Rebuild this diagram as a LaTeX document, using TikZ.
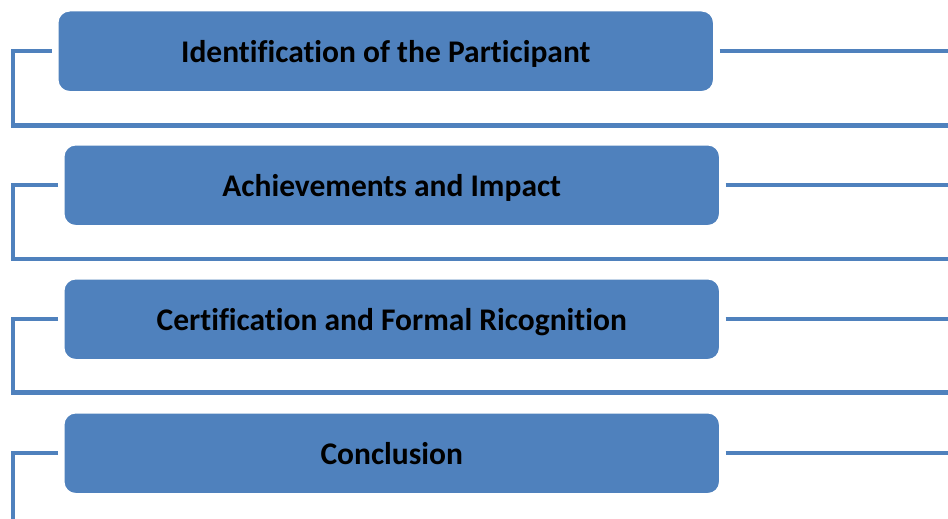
\documentclass[tikz,border=0pt]{standalone}
\usepackage{fontspec}
\setmainfont[Ligatures=NoCommon]{Carlito}
\definecolor{boxblue}{HTML}{4F81BD}
\tikzset{
  stagebox/.style={draw=white, line width=1.5pt, fill=boxblue, rounded corners=12pt,
    minimum height=81pt, inner sep=0pt, anchor=north west,
    font=\fontsize{31.5}{36}\selectfont\bfseries, text=black,
    text depth=0pt},
  link/.style={draw=boxblue, line width=4.2pt, line join=miter, line cap=butt},
}
\begin{document}
\begin{tikzpicture}[x=1pt, y=-1pt]
  \useasboundingbox (0,0) rectangle (948,519);
  % stage boxes
  \node[stagebox, minimum width=656pt] (b1) at (57,10) {Identification of the Participant};
  \node[stagebox, minimum width=656pt] (b2) at (63,144) {Achievements and Impact};
  \node[stagebox, minimum width=656pt] (b3) at (63,278) {Certification and Formal Ricognition};
  \node[stagebox, minimum width=656pt] (b4) at (63,412) {Conclusion};
  % corner and end points of the brackets
  \coordinate (L1) at (13,125.5);
  \coordinate (L2) at (13,259);
  \coordinate (L3) at (13,392.5);
  \coordinate (L4) at (13,519);
  \coordinate (F1) at (948,125.5);
  \coordinate (F2) at (948,259);
  \coordinate (F3) at (948,392.5);
  % left brackets running under each box
  \draw[link] ([xshift=-5pt]b1.west) -| (L1) -- (F1);
  \draw[link] ([xshift=-5pt]b2.west) -| (L2) -- (F2);
  \draw[link] ([xshift=-5pt]b3.west) -| (L3) -- (F3);
  \draw[link] ([xshift=-5pt]b4.west) -| (L4);
  % lines leaving each box to the right
  \coordinate (E1) at ([xshift=5pt]b1.east -| F1);
  \coordinate (E2) at ([xshift=5pt]b2.east -| F1);
  \coordinate (E3) at ([xshift=5pt]b3.east -| F1);
  \coordinate (E4) at ([xshift=5pt]b4.east -| F1);
  \draw[link] ([xshift=5pt]b1.east) -- (E1);
  \draw[link] ([xshift=5pt]b2.east) -- (E2);
  \draw[link] ([xshift=5pt]b3.east) -- (E3);
  \draw[link] ([xshift=5pt]b4.east) -- (E4);
\end{tikzpicture}
\end{document}
